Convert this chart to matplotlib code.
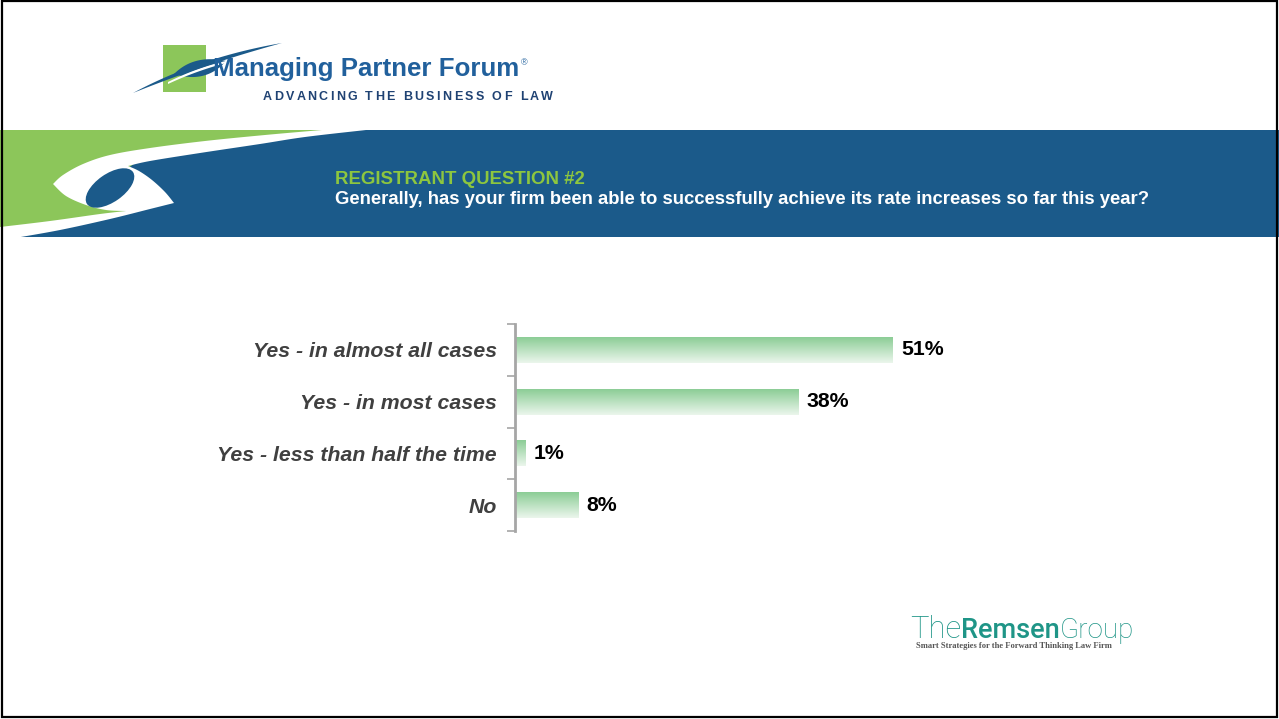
import numpy as np
import matplotlib
matplotlib.use("Agg")
import matplotlib.pyplot as plt
from matplotlib.patches import Rectangle, Polygon, Ellipse
from matplotlib.colors import LinearSegmentedColormap

# ---------------- data ----------------
categories = ["Yes - in almost all cases", "Yes - in most cases",
              "Yes - less than half the time", "No"]
values = [51.0, 38.3, 1.4, 8.6]
value_labels = ["51%", "38%", "1%", "8%"]
kicker = "REGISTRANT QUESTION #2"
question = ("Generally, has your firm been able to successfully achieve "
            "its rate increases so far this year?")
brand = "Managing Partner Forum"
brand_sub = "ADVANCING THE BUSINESS OF LAW"
remsen_parts = ["The", "Remsen", "Group"]
remsen_tag = "Smart Strategies for the Forward Thinking Law Firm"

# ---------------- style ----------------
BLUE = "#1b5a8a"
GREEN = "#8cc65a"
GREEN_TXT = "#8dc63f"
TEAL = "#1f9587"
FONT = "Liberation Sans"

W, H = 1279, 719
fig = plt.figure(figsize=(W / 100, H / 100), dpi=100)
fig.patch.set_facecolor("white")
R = fig.canvas.get_renderer()

bg = fig.add_axes([0, 0, 1, 1])
bg.set_xlim(0, W)
bg.set_ylim(H, 0)
bg.axis("off")


def bez(p0, p1, p2, n=40):
    t = np.linspace(0, 1, n)[:, None]
    p0, p1, p2 = map(np.asarray, (p0, p1, p2))
    return (1 - t) ** 2 * p0 + 2 * (1 - t) * t * p1 + t ** 2 * p2


def smooth(pts, n=12):
    """Catmull-Rom curve through the given points."""
    P = np.asarray(pts, float)
    P = np.vstack([P[0], P, P[-1]])
    out = []
    for i in range(1, len(P) - 2):
        p0, p1, p2, p3 = P[i - 1], P[i], P[i + 1], P[i + 2]
        for t in np.linspace(0, 1, n, endpoint=False):
            t2, t3 = t * t, t * t * t
            out.append(0.5 * ((2 * p1) + (-p0 + p2) * t
                              + (2 * p0 - 5 * p1 + 4 * p2 - p3) * t2
                              + (-p0 + 3 * p1 - 3 * p2 + p3) * t3))
    out.append(P[-2])
    return np.array(out)


def fit_text(ax, x, y, s, width, **kw):
    t = ax.text(x, y, s, fontsize=10, **kw)
    bb = t.get_window_extent(renderer=R)
    t.set_fontsize(10 * width / bb.width)
    return t


def tracked(ax, x0, x1, y, s, fontsize, **kw):
    def w(txt):
        t = ax.text(0, 0, txt + "I", fontsize=fontsize, **kw)
        ww = t.get_window_extent(renderer=R).width
        t.remove()
        return ww
    wI = w("")
    adv = [w(s[:i]) - wI for i in range(len(s) + 1)]
    last = w(s[:-1]) - wI
    t = ax.text(0, 0, s[-1], fontsize=fontsize, **kw)
    lastw = t.get_window_extent(renderer=R).width
    t.remove()
    natural = last + lastw
    track = (x1 - x0 - natural) / (len(s) - 1)
    for i, ch in enumerate(s):
        if ch != " ":
            ax.text(x0 + adv[i] + i * track, y, ch, fontsize=fontsize, **kw)


# ---------------- banner ----------------
bg.add_patch(Rectangle((0, 130), W, 107, color=BLUE, lw=0, zorder=1))
green_pts = np.vstack([[(0, 130), (342, 130)],
                       smooth([(342, 130), (260, 140), (200, 147),
                               (150, 156), (128, 168)]),
                       [(150, 185), (172, 203)],
                       smooth([(172, 203), (100, 216), (0, 232)])])
bg.add_patch(Polygon(green_pts, closed=True, color=GREEN, lw=0, zorder=2))

white_s = np.vstack([
    smooth([(322, 130), (265, 135), (205, 141), (150, 148), (110, 155),
            (83, 164), (63, 175), (53, 184)]),
    smooth([(53, 184), (66, 196), (86, 205), (106, 210), (126, 211)]),
    smooth([(126, 211), (100, 214), (50, 221), (0, 227)]),
    [(0, 238), (15, 238)],
    smooth([(15, 238), (60, 230), (110, 219), (150, 209), (174, 203)]),
    smooth([(174, 203), (165, 192), (152, 180), (139, 171), (128, 166)]),
    smooth([(128, 166), (150, 161), (200, 153), (260, 144), (305, 137),
            (366, 130)]),
])
bg.add_patch(Polygon(white_s, closed=True, color="white", lw=0, zorder=3))
bg.add_patch(Ellipse((110, 188), 56, 28, angle=-35, color=BLUE, lw=0,
                     zorder=4))

bg.text(335, 184.5, kicker, fontsize=13.4, fontweight="bold", color=GREEN_TXT,
        family=FONT, va="baseline", zorder=5)
fit_text(bg, 335, 204.5, question, 820, fontweight="bold", color="white",
         family=FONT, va="baseline", zorder=5)

# ---------------- top logo ----------------
bg.add_patch(Rectangle((163, 45), 43, 47, color=GREEN, lw=0, zorder=2))
leaf = np.vstack([bez((174, 74), (194, 54), (226, 61)),
                  bez((226, 61), (206, 84), (174, 74))])
bg.add_patch(Polygon(leaf, closed=True, color=BLUE, lw=0, zorder=3))
gap = np.vstack([bez((168, 82), (198, 67), (230, 60)),
                 bez((230, 62), (198, 70), (168, 84))])
bg.add_patch(Polygon(gap, closed=True, color="white", lw=0, zorder=4))
sw = np.vstack([bez((133, 93), (200, 57), (282, 43)),
                bez((282, 43), (205, 64), (133, 93))])
bg.add_patch(Polygon(sw, closed=True, color=BLUE, lw=0, zorder=5))
fit_text(bg, 213, 76, brand, 307, fontweight="bold", color="#21609c",
         family=FONT, va="baseline", zorder=5)
bg.text(521, 65, "®", fontsize=6.5, color="#21609c", family=FONT,
        va="baseline", zorder=5)
tracked(bg, 263, 553, 100.5, brand_sub, 9.0, fontweight="bold",
        color="#1f4273", family=FONT, va="baseline", zorder=5)

# ---------------- Remsen logo ----------------
xs = [910, 961, 1060, 1134]
weights = ["light", "medium", "light"]
for part, x0, x1, wt in zip(remsen_parts, xs[:-1], xs[1:], weights):
    fit_text(bg, x0, 637.5, part, x1 - x0, fontweight=wt, color=TEAL,
             family="Roboto", va="baseline", zorder=5)
fit_text(bg, 916, 647.5, remsen_tag, 198, color="#555555",
         family="Liberation Serif", fontweight="bold", va="baseline",
         zorder=5)

# ---------------- border ----------------
bg.add_patch(Rectangle((1.5, 1), W - 3.5, H - 2.8, fill=False, ec="black",
                       lw=1.6, zorder=10))

# ---------------- chart ----------------
ax = fig.add_axes([515 / W, 1 - 531 / H, 741 / W, 207 / H])
ax.patch.set_alpha(0)
ypos = np.arange(len(categories))
bar_h = 0.5
bars = ax.barh(ypos, values, height=bar_h, color="none", edgecolor="none")
grad = np.linspace(0, 1, 64)[:, None]
cmap = LinearSegmentedColormap.from_list("g", ["#8ccd96", "#ebf6ec"])
for yc, v, b in zip(ypos, values, bars):
    im = ax.imshow(grad, cmap=cmap, aspect="auto", origin="upper",
                   extent=(0, v, yc + bar_h / 2, yc - bar_h / 2), zorder=2)
    im.set_clip_path(b)
for yc, v, lbl in zip(ypos, values, value_labels):
    ax.annotate(lbl, (v, yc), xytext=(5.8, 0), textcoords="offset points",
                va="center", ha="left", fontsize=15.3, fontweight="bold",
                color="black", family=FONT)
ax.set_xlim(0, 100)
ax.set_ylim(len(categories) - 0.5, -0.5)
ax.set_yticks(ypos)
ax.set_yticklabels(categories, fontsize=15.3, fontweight="bold",
                   fontstyle="italic", color="#404040", family=FONT)
ax.set_yticks(np.arange(-0.5, len(categories), 1), minor=True)
ax.tick_params(axis="y", which="major", length=0, pad=13)
ax.tick_params(axis="y", which="minor", length=6, width=1.2, color="#a6a6a6")
ax.set_xticks([])
for s in ["top", "right", "bottom"]:
    ax.spines[s].set_visible(False)
ax.spines["left"].set_color("#a6a6a6")
ax.spines["left"].set_linewidth(2)

fig.savefig("out.png", dpi=100, facecolor="white")
